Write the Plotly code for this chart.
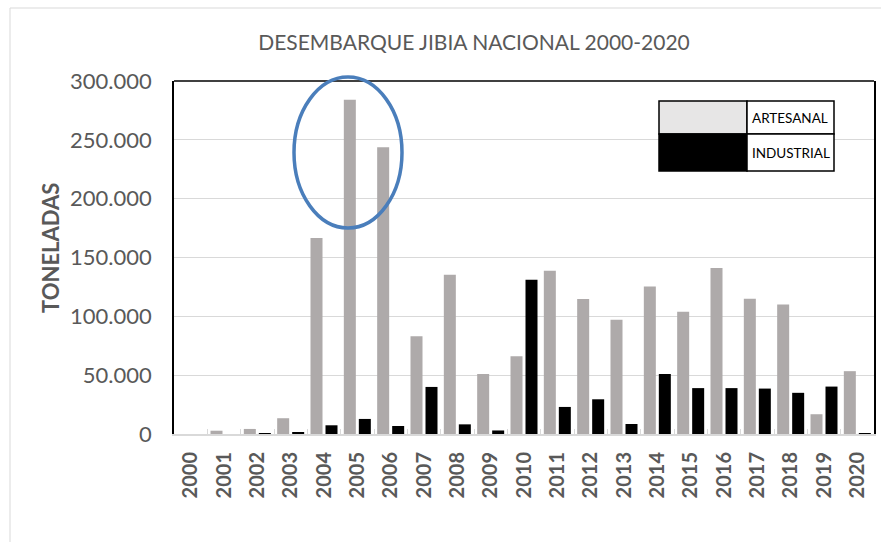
import plotly.graph_objects as go

years = [str(y) for y in range(2000, 2021)]
artesanal = [0, 2800, 4300, 13400, 166500, 284000, 243800, 83000, 135300, 51000,
             66000, 138700, 114800, 97000, 125300, 104000, 141000, 115000, 110000, 16800, 53400]
industrial = [0, 0, 500, 1000, 7400, 12800, 6800, 40000, 8200, 3000,
              131000, 23000, 29500, 8500, 51000, 39000, 39000, 38600, 35000, 40300, 500]
y_ticks = [0, 50000, 100000, 150000, 200000, 250000, 300000]

W, H = 881, 542
L, R, T, B = 174, 874, 81, 434
PW, PH = R - L, B - T

def px(x):
    return (x - L) / PW

def py(y):
    return (B - y) / PH

FONT = "Lato, Open Sans, sans-serif"
GREY_TXT = "#595959"

fig = go.Figure()
fig.add_trace(go.Bar(x=years, y=artesanal, name="ARTESANAL", marker_color="#AEAAAA",
                     marker_line_width=0))
fig.add_trace(go.Bar(x=years, y=industrial, name="INDUSTRIAL", marker_color="#000000",
                     marker_line_width=0))

shapes = []
# outer chart border
shapes.append(dict(type="rect", xref="paper", yref="paper", x0=px(10), x1=px(895),
                   y0=py(560), y1=py(8), line=dict(color="#D9D9D9", width=1), layer="below"))
# plot top border
shapes.append(dict(type="line", xref="paper", yref="paper", x0=0, x1=1, y0=1, y1=1,
                   line=dict(color="#000000", width=1.5)))
# ellipse highlight
shapes.append(dict(type="circle", xref="paper", yref="paper", x0=px(294), x1=px(402),
                   y0=py(228), y1=py(77), line=dict(color="#4A7EBB", width=3.5)))
# legend table
lx0, lxm, lx1 = 659, 747, 834
ly0, lym, ly1 = 101, 134, 171
shapes.append(dict(type="rect", xref="paper", yref="paper", x0=px(lx0), x1=px(lxm),
                   y0=py(lym), y1=py(ly0), fillcolor="#E7E6E6", line=dict(color="#000", width=1.5)))
shapes.append(dict(type="rect", xref="paper", yref="paper", x0=px(lx0), x1=px(lxm),
                   y0=py(ly1), y1=py(lym), fillcolor="#000000", line=dict(color="#000", width=1.5)))
shapes.append(dict(type="rect", xref="paper", yref="paper", x0=px(lxm), x1=px(lx1),
                   y0=py(lym), y1=py(ly0), fillcolor="#FFFFFF", line=dict(color="#000", width=1.5)))
shapes.append(dict(type="rect", xref="paper", yref="paper", x0=px(lxm), x1=px(lx1),
                   y0=py(ly1), y1=py(lym), fillcolor="#FFFFFF", line=dict(color="#000", width=1.5)))

LEG_FONT = "Lato, sans-serif"
annotations = [
    dict(text="ARTESANAL", xref="paper", yref="paper", x=px(750), y=py(118),
         xanchor="left", yanchor="middle", showarrow=False,
         font=dict(family=LEG_FONT, size=13.5, color="#000")),
    dict(text="INDUSTRIAL", xref="paper", yref="paper", x=px(750), y=py(153),
         xanchor="left", yanchor="middle", showarrow=False,
         font=dict(family=LEG_FONT, size=13.5, color="#000")),
    dict(text="<b>TONELADAS</b>", xref="paper", yref="paper", x=px(50), y=py(248),
         xanchor="center", yanchor="middle", showarrow=False, textangle=-90,
         font=dict(family=FONT, size=22, color=GREY_TXT)),
]

fig.update_layout(
    width=W, height=H,
    margin=dict(l=L, r=W - R, t=T, b=H - B, pad=0),
    paper_bgcolor="#FFFFFF", plot_bgcolor="#FFFFFF",
    barmode="group", bargap=0.1, bargroupgap=0.2,
    showlegend=False,
    separators=",.",
    title=dict(text="DESEMBARQUE JIBIA NACIONAL 2000-2020", xref="container", yref="container",
               x=474 / W, y=1 - 43 / H, xanchor="center", yanchor="middle",
               font=dict(family=FONT, size=21, color=GREY_TXT)),
    xaxis=dict(type="category", tickangle=-90, showline=True, linecolor="#D9D9D9", linewidth=2,
               ticks="inside", tickson="boundaries", ticklen=5, tickcolor="#D9D9D9",
               tickfont=dict(family=FONT, size=20, color=GREY_TXT, weight="bold"),
               ticklabelstandoff=8, showgrid=False, automargin=False),
    yaxis=dict(range=[0, 300000], tickvals=y_ticks, tickformat=",d",
               showgrid=True, gridcolor="#D9D9D9", gridwidth=1,
               showline=True, linecolor="#000000", linewidth=1.5, mirror=True,
               zeroline=False, ticks="", ticklabelstandoff=16, automargin=False,
               tickfont=dict(family=FONT, size=22, color=GREY_TXT)),
    shapes=shapes,
    annotations=annotations,
)

fig.write_html("out.html", config={"responsive": False, "displayModeBar": False},
               post_script="document.body.style.margin='0';document.body.style.overflow='hidden';")
